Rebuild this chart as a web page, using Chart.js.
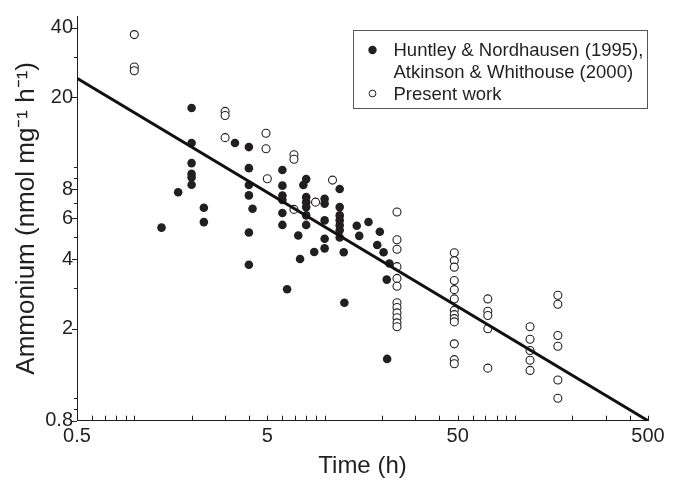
<!DOCTYPE html>
<html>
<head>
<meta charset="utf-8">
<style>
html,body{margin:0;padding:0;background:#ffffff;}
#wrap{width:684px;height:483px;}
</style>
<script src="https://cdn.jsdelivr.net/npm/chart.js@4.4.0/dist/chart.umd.min.js"></script>
</head>
<body>
<div id="wrap"><canvas id="c" width="684" height="483"></canvas></div>
<script>
// Huntley & Nordhausen (1995), Atkinson & Whithouse (2000) — filled circles
const hnTime = [1.39,1.70,2.0,2.0,2.0,2.0,2.0,2.0,2.32,2.32,3.38,4.0,4.0,4.0,4.0,4.18,4.0,4.0,
  6.0,6.0,6.0,6.0,6.0,6.0,6.35,7.43,8.82,10.0,8.0,7.73,8.0,8.0,8.0,8.0,8.0,7.27,
  10.0,10.0,10.0,10.0,12.0,12.0,12.0,12.0,12.0,12.0,12.0,12.6,14.75,15.2,17.0,19.5,18.9,20.4,21.9,21.2,21.3,12.7];
const hnAmmonium = [5.47,7.78,18.0,12.7,10.4,9.34,9.02,8.38,6.67,5.78,12.7,12.2,9.89,8.36,7.54,6.6,5.21,3.78,
  9.71,8.31,7.53,7.21,6.33,5.62,2.96,4.0,4.29,4.45,8.87,8.36,7.41,7.05,6.71,6.18,5.62,5.06,
  7.29,6.95,5.88,4.90,8.04,6.71,6.18,5.89,5.60,5.33,4.96,4.28,5.57,5.04,5.79,5.25,4.6,4.28,3.83,3.26,1.48,2.59];

// Present work — open circles
const pwTime = [1,1,1, 3,3,3, 4.92,4.92,5, 6.9,6.9,6.9, 8.96, 11,
  24,24,24,24,24,24,24,24,24,24,24,24,
  48,48,48,48,48,48,48,48,48,48,48,48,48,
  72,72,72,72,72,
  120,120,120,120,120,
  168,168,168,168,168,168];
const pwAmmonium = [37.4,27.1,26.1, 17.4,16.7,13.4, 14.0,12.0,8.9, 11.3,10.8,6.56, 7.05, 8.78,
  6.39,4.85,4.41,3.71,3.30,3.05,2.59,2.47,2.34,2.23,2.12,2.04,
  4.26,3.94,3.69,3.23,2.95,2.69,2.40,2.30,2.21,2.14,1.72,1.47,1.41,
  2.69,2.38,2.28,2.00,1.35,
  2.04,1.80,1.61,1.46,1.32,
  2.79,2.55,1.87,1.68,1.20,1.00];

// Fitted regression line
const fitTime = [0.5, 500];
const fitAmmonium = [24.2, 0.8];

// Ticks
const xTickValues = [0.5,0.6,0.7,0.8,0.9,1,2,3,4,5,6,7,8,9,10,20,30,40,50,60,70,80,90,100,200,300,400,500];
const xTickLabels = [0.5,5,50,500];
const yTickValues = [0.8,0.9,1,2,3,4,5,6,7,8,9,10,20,30,40];
const yTickLabels = [0.8,2,4,6,8,20,40];

const legendLabels = [["Huntley & Nordhausen (1995),","Atkinson & Whithouse (2000)"],["Present work"]];
const xTitle = "Time (h)";
const yTitle = "Ammonium (nmol mg\u207B\u00B9 h\u207B\u00B9)";

const ink = '#231f20';
const FONT = "'Liberation Sans', Arial, Helvetica, sans-serif";
Chart.defaults.font.family = FONT;
Chart.defaults.color = ink;

const toPts = (xs, ys) => xs.map((v, i) => ({x: v, y: ys[i]}));

const extras = {
  id: 'extras',
  afterDraw(chart) {
    const {ctx, chartArea: ca, scales: {x, y}} = chart;
    ctx.save();
    ctx.strokeStyle = ink;
    ctx.lineWidth = 1;
    ctx.beginPath();
    xTickValues.forEach(v => {
      const px = Math.round(x.getPixelForValue(v)) + 0.5;
      ctx.moveTo(px, ca.bottom);
      ctx.lineTo(px, ca.bottom - 5);
    });
    yTickValues.forEach(v => {
      const py = Math.round(y.getPixelForValue(v)) + 0.5;
      const len = yTickLabels.includes(v) ? 5 : 3;
      ctx.moveTo(ca.left, py);
      ctx.lineTo(ca.left - len, py);
    });
    ctx.stroke();

    // legend box
    const bw = 294, bh = 78;
    const bx = Math.round(ca.right - bw - 1) + 0.5;
    const by = Math.round(ca.top + 14) + 0.5;
    ctx.strokeStyle = '#555';
    ctx.lineWidth = 1;
    ctx.strokeRect(bx, by, bw, bh);
    ctx.font = "18.5px " + FONT;
    ctx.fillStyle = ink;
    ctx.textAlign = 'left';
    ctx.textBaseline = 'alphabetic';
    const tx = bx + 40, mx = bx + 19;
    const base = [by + 25.5, by + 47.5, by + 69];
    ctx.fillText(legendLabels[0][0], tx, base[0]);
    ctx.fillText(legendLabels[0][1], tx, base[1]);
    ctx.fillText(legendLabels[1][0], tx, base[2]);
    ctx.beginPath();
    ctx.arc(mx, base[0] - 6, 4.2, 0, Math.PI * 2);
    ctx.fill();
    ctx.beginPath();
    ctx.fillStyle = '#fff';
    ctx.arc(mx, base[2] - 6, 3.4, 0, Math.PI * 2);
    ctx.fill();
    ctx.strokeStyle = ink;
    ctx.stroke();
    ctx.restore();
  }
};

new Chart(document.getElementById('c'), {
  type: 'scatter',
  data: {
    datasets: [
      {
        label: 'Fit',
        type: 'line',
        data: toPts(fitTime, fitAmmonium),
        borderColor: '#111',
        borderWidth: 3,
        pointRadius: 0,
        showLine: true,
        fill: false,
        order: 0
      },
      {
        label: legendLabels[0].join(' '),
        data: toPts(hnTime, hnAmmonium),
        pointRadius: 4.3,
        pointBackgroundColor: ink,
        pointBorderWidth: 0,
        showLine: false,
        order: 1
      },
      {
        label: legendLabels[1][0],
        data: toPts(pwTime, pwAmmonium),
        pointRadius: 4,
        pointBackgroundColor: '#fff',
        pointBorderColor: ink,
        pointBorderWidth: 1.1,
        showLine: false,
        order: 2
      }
    ]
  },
  options: {
    responsive: false,
    devicePixelRatio: 1,
    animation: false,
    layout: {padding: {top: 12, right: 36, left: 0, bottom: 0}},
    plugins: {legend: {display: false}, tooltip: {enabled: false}},
    scales: {
      x: {
        type: 'logarithmic',
        position: 'bottom',
        min: 0.5, max: 500,
        bounds: 'data',
        afterBuildTicks: s => { s.ticks = xTickValues.map(v => ({value: v})); },
        afterFit: s => { s.height = 62.3; },
        ticks: {
          autoSkip: false, maxRotation: 0, minRotation: 0, padding: 4,
          font: {size: 20}, color: ink,
          callback: v => xTickLabels.includes(v) ? String(v) : ''
        },
        grid: {display: false, drawTicks: false},
        border: {display: true, color: ink, width: 1},
        title: {display: true, text: xTitle, font: {size: 24}, color: ink, padding: {top: 0, bottom: 2}}
      },
      y: {
        type: 'logarithmic',
        position: 'left',
        min: 0.8, max: 45,
        bounds: 'data',
        afterBuildTicks: s => { s.ticks = yTickValues.map(v => ({value: v})); },
        afterFit: s => { s.width = 77; },
        ticks: {
          autoSkip: false, padding: 4,
          font: {size: 20}, color: ink,
          callback: v => yTickLabels.includes(v) ? String(v) : ''
        },
        grid: {display: false, drawTicks: false},
        border: {display: true, color: ink, width: 1},
        title: {display: true, text: yTitle, font: {size: 26}, color: ink, padding: {top: 11, bottom: 0}}
      }
    }
  },
  plugins: [extras]
});
</script>
</body>
</html>
